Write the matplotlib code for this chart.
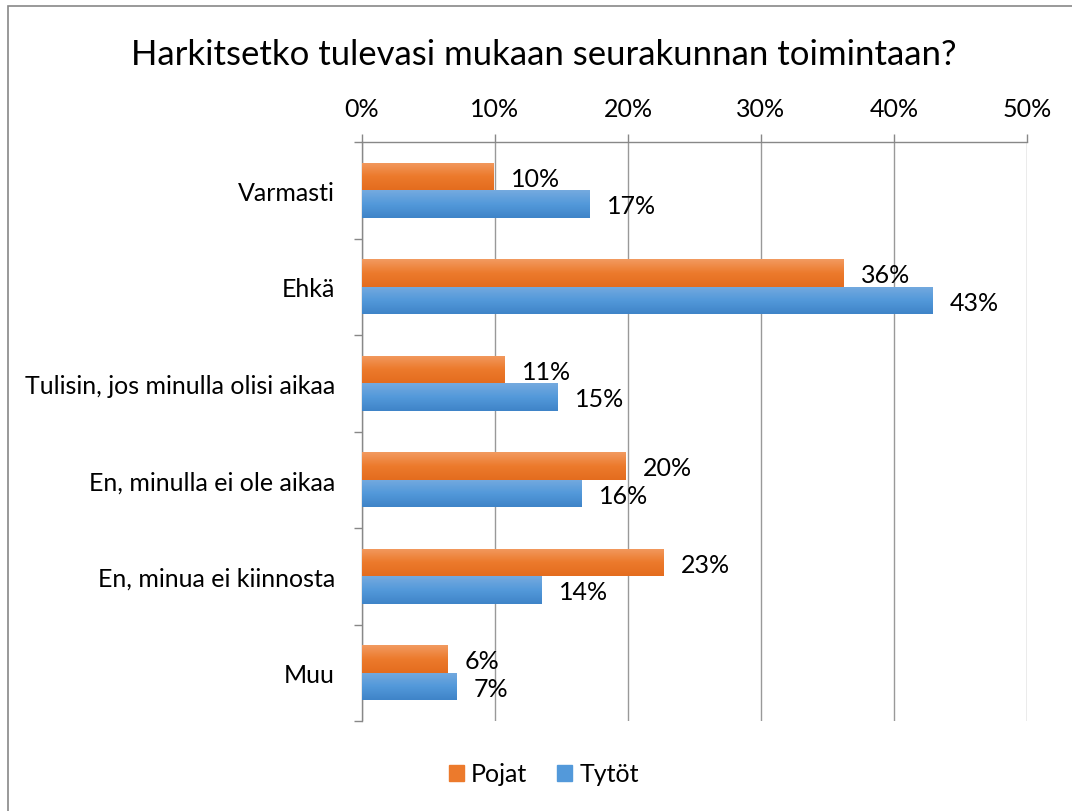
import numpy as np
import matplotlib
matplotlib.use("Agg")
import matplotlib.pyplot as plt
from matplotlib.patches import Rectangle
from matplotlib.colors import LinearSegmentedColormap

plt.rcParams['font.family'] = ['Lato', 'DejaVu Sans']

title = "Harkitsetko tulevasi mukaan seurakunnan toimintaan?"
categories = ["Varmasti", "Ehkä", "Tulisin, jos minulla olisi aikaa",
              "En, minulla ei ole aikaa", "En, minua ei kiinnosta", "Muu"]
pojat = [0.099, 0.362, 0.107, 0.198, 0.227, 0.064]
tytot = [0.171, 0.429, 0.147, 0.165, 0.135, 0.071]
xticks = [0, 0.1, 0.2, 0.3, 0.4, 0.5]
xticklabels = ["0%", "10%", "20%", "30%", "40%", "50%"]

W, H = 1072, 812
fig = plt.figure(figsize=(W / 100, H / 100), dpi=100)
fig.patch.set_facecolor("white")

# chart border
fig.patches.append(Rectangle((8 / W, -0.05), 1.2, 1 - 7 / H + 0.05, transform=fig.transFigure,
                             fill=False, edgecolor="#888888", lw=1.2))

ax = fig.add_axes([362 / W, 90 / H, 665 / W, 579 / H])

orange_cm = LinearSegmentedColormap.from_list("o", ["#F29A60", "#EC7A2C", "#E46C1E"])
blue_cm = LinearSegmentedColormap.from_list("b", ["#75AADF", "#5399DA", "#3F84C8"])

n = len(categories)
y = np.arange(n)
h = 0.285
grad = np.linspace(0, 1, 64).reshape(-1, 1)

def grad_bar(yc, val, cmap):
    bars = ax.barh(yc, val, height=h, color="none", edgecolor="none", zorder=3)
    for b in bars:
        x0, y0 = b.get_x(), b.get_y()
        w, hh = b.get_width(), b.get_height()
        im = ax.imshow(grad, cmap=cmap, aspect="auto", extent=[x0, x0 + w, y0, y0 + hh],
                       origin="lower", zorder=3)
        im.set_clip_path(b)
    return bars

grad_bar(y - h / 2, pojat, orange_cm)
grad_bar(y + h / 2, tytot, blue_cm)

for i in range(n):
    ax.text(pojat[i] + 0.013, y[i] - h / 2 + 0.02, f"{round(pojat[i] * 100):.0f}%",
            va="center", ha="left", fontsize=18, color="black", zorder=4)
    ax.text(tytot[i] + 0.013, y[i] + h / 2 + 0.02, f"{round(tytot[i] * 100):.0f}%",
            va="center", ha="left", fontsize=18, color="black", zorder=4)

ax.set_xlim(0, 0.5)
ax.set_ylim(n - 0.5, -0.5)
ax.xaxis.tick_top()
ax.set_xticks(xticks)
ax.set_xticklabels(xticklabels, fontsize=18)
ax.set_yticks(y)
ax.set_yticklabels(categories, fontsize=18)
ax.set_yticks(np.arange(-0.5, n, 1), minor=True)
ax.tick_params(axis="y", which="major", length=0, pad=19.5)
ax.tick_params(axis="y", which="minor", length=6, color="#888888", width=1)
ax.tick_params(axis="x", which="major", length=6, color="#888888", width=1, pad=10)
ax.grid(axis="x", color="#999999", lw=1, zorder=0)
for s in ["right", "bottom"]:
    ax.spines[s].set_visible(False)
for s in ["top", "left"]:
    ax.spines[s].set_color("#888888")
    ax.spines[s].set_linewidth(1)

fig.text(544 / W, 1 - 55 / H, title, ha="center", va="center", fontsize=25)

handles = [Rectangle((0, 0), 1, 1, color="#EC7A2C"), Rectangle((0, 0), 1, 1, color="#5399DA")]
fig.legend(handles, ["Pojat", "Tytöt"], loc="center", bbox_to_anchor=(544 / W, 1 - 775 / H),
           ncol=2, frameon=False, fontsize=18, handlelength=0.6, handleheight=0.6,
           handletextpad=0.3, columnspacing=1.2)

fig.savefig("out.png", dpi=100)
